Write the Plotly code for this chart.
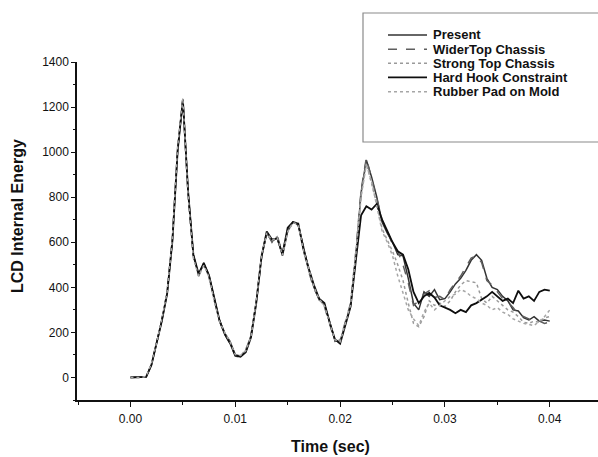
import plotly.graph_objects as go

time_ms = [i * 0.5 for i in range(81)]  # 0 .. 40 ms, step 0.5 ms
time_sec = [t / 1000.0 for t in time_ms]

present = [0, 0, 0, 3, 55, 150, 255, 375, 610, 1010, 1235, 820, 540, 455, 505, 450, 345, 250, 195, 160,
           100, 95, 115, 185, 335, 535, 640, 605, 620, 540, 650, 690, 680, 575, 480, 400, 345, 325, 240, 165,
           160, 240, 320, 540, 820, 965, 890, 800, 690, 640, 600, 545, 540, 440, 330, 300, 380, 360, 390, 345,
           350, 380, 415, 440, 475, 520, 545, 520, 440, 400, 390, 360, 340, 300, 295, 265, 255, 270, 250, 255, 250]
wider_top = [0, 0, 0, 4, 58, 152, 258, 380, 615, 1015, 1230, 815, 545, 450, 500, 455, 340, 255, 190, 150,
             95, 90, 120, 190, 330, 530, 645, 600, 630, 550, 655, 695, 675, 580, 470, 395, 350, 315, 235, 160,
             165, 250, 330, 560, 830, 975, 880, 790, 700, 650, 590, 560, 500, 420, 320, 340, 370, 385, 355, 360,
             345, 390, 420, 450, 490, 530, 540, 510, 430, 410, 380, 350, 335, 310, 280, 270, 260, 245, 250, 240, 245]
strong_top = [0, 0, 0, 4, 60, 155, 255, 378, 612, 1020, 1238, 810, 535, 455, 510, 440, 335, 245, 200, 155,
              100, 95, 125, 185, 340, 545, 640, 610, 625, 545, 650, 685, 690, 560, 475, 405, 345, 320, 250, 170,
              160, 245, 325, 555, 810, 950, 860, 770, 660, 610, 560, 500, 430, 330, 240, 225, 270, 340, 320, 330,
              315, 340, 380, 410, 430, 425, 420, 350, 330, 360, 340, 320, 300, 290, 270, 245, 240, 250, 245, 265, 270]
hard_hook = [0, 0, 0, 3, 55, 148, 252, 372, 605, 1005, 1232, 825, 545, 460, 508, 452, 348, 252, 192, 152,
             98, 92, 112, 178, 330, 535, 648, 612, 618, 548, 665, 690, 682, 570, 485, 410, 350, 330, 245, 170,
             150, 235, 315, 520, 720, 760, 745, 770, 700, 650, 600, 560, 545, 480, 380, 330, 360, 375, 355, 320,
             310, 300, 285, 300, 290, 320, 330, 345, 360, 380, 360, 340, 350, 330, 385, 350, 360, 340, 380, 390, 385]
rubber_pad = [0, 0, 0, 5, 62, 155, 260, 382, 618, 1025, 1240, 805, 530, 450, 498, 445, 338, 248, 198, 158,
              102, 98, 118, 182, 338, 538, 642, 608, 622, 542, 648, 688, 680, 565, 478, 402, 348, 318, 242, 168,
              158, 242, 322, 548, 800, 945, 870, 760, 650, 600, 540, 450, 380, 300, 260, 230, 290, 330, 300, 320,
              340, 360, 370, 390, 380, 360, 350, 330, 320, 300, 310, 290, 280, 260, 250, 240, 235, 230, 250, 270, 300]

series_names = ["Present", "WiderTop Chassis", "Strong Top Chassis", "Hard Hook Constraint", "Rubber Pad on Mold"]
series_values = [present, wider_top, strong_top, hard_hook, rubber_pad]
series_colors = ["#333333", "#5e5e5e", "#9a9a9a", "#0e0e0e", "#a6a6a6"]
series_dash = ["solid", "dash", "dot", "solid", "dot"]
series_width = [1.5, 1.5, 1.5, 1.8, 1.5]

y_ticks = [0, 200, 400, 600, 800, 1000, 1200, 1400]
x_ticks = [0.00, 0.01, 0.02, 0.03, 0.04]
x_tick_labels = ["0.00", "0.01", "0.02", "0.03", "0.04"]

FONT = "Liberation Sans, Arial, sans-serif"

fig = go.Figure()
for name, vals, col, dash, w in zip(series_names, series_values, series_colors, series_dash, series_width):
    fig.add_trace(go.Scatter(x=time_sec, y=vals, mode="lines", name=name,
                             line=dict(color=col, dash=dash, width=w), showlegend=False))

# manual legend (box, samples, labels) in paper coordinates
L, R, T, B = 77, 598, 62, 400
W, H = R - L, B - T


def px(xp):
    return (xp - L) / W


def py(yp):
    return (B - yp) / H


shapes = [dict(type="rect", xref="paper", yref="paper",
               x0=px(363), x1=px(610), y0=py(142), y1=py(13),
               line=dict(color="#8a8a8a", width=1.2), fillcolor="rgba(0,0,0,0)", layer="above")]
annotations = []
rows = [35, 49.3, 63.3, 77.3, 91.7]
for name, col, dash, w, ry in zip(series_names, series_colors, series_dash, series_width, rows):
    shapes.append(dict(type="line", xref="paper", yref="paper",
                       x0=px(388), x1=px(427), y0=py(ry), y1=py(ry),
                       line=dict(color=col, dash=dash, width=w)))
    annotations.append(dict(text=name, xref="paper", yref="paper", x=px(431), y=py(ry),
                            xanchor="left", yanchor="middle", showarrow=False,
                            font=dict(family=FONT, size=13, color="#111111", weight="bold")))

annotations.append(dict(text="LCD Internal Energy", xref="paper", yref="paper",
                        x=px(17), y=py(216), textangle=-90, showarrow=False,
                        xanchor="center", yanchor="middle",
                        font=dict(family=FONT, size=16, color="#111111", weight="bold")))
annotations.append(dict(text="Time (sec)", xref="paper", yref="paper",
                        x=px(330), y=py(446), showarrow=False,
                        xanchor="center", yanchor="middle",
                        font=dict(family=FONT, size=16, color="#111111", weight="bold")))

fig.update_layout(
    width=598, height=457,
    margin=dict(l=L, r=598 - R, t=T, b=457 - B, pad=0),
    paper_bgcolor="white", plot_bgcolor="white",
    shapes=shapes, annotations=annotations,
    showlegend=False,
    xaxis=dict(range=[-0.0051, 0.0446], tickvals=x_ticks, ticktext=x_tick_labels,
               showgrid=False, zeroline=False, showline=True, linecolor="#111111", linewidth=1.5,
               ticks="outside", ticklen=5, tickwidth=1.3, tickcolor="#111111", ticklabelstandoff=2,
               tickfont=dict(family=FONT, size=12, color="#111111"),
               minor=dict(dtick=0.005, tick0=0, ticks="outside", ticklen=3, tickwidth=1.2, tickcolor="#111111")),
    yaxis=dict(range=[-100, 1400], tickvals=y_ticks,
               showgrid=False, zeroline=False, showline=True, linecolor="#111111", linewidth=1.5,
               ticks="outside", ticklen=4, tickwidth=1.3, tickcolor="#111111",
               tickfont=dict(family=FONT, size=12, color="#111111"),
               minor=dict(dtick=100, tick0=0, ticks="outside", ticklen=2, tickwidth=1.2, tickcolor="#111111")),
)

fig.write_html("out.html", config={"displayModeBar": False},
               post_script="document.body.style.margin='0';document.body.style.overflow='hidden';")
